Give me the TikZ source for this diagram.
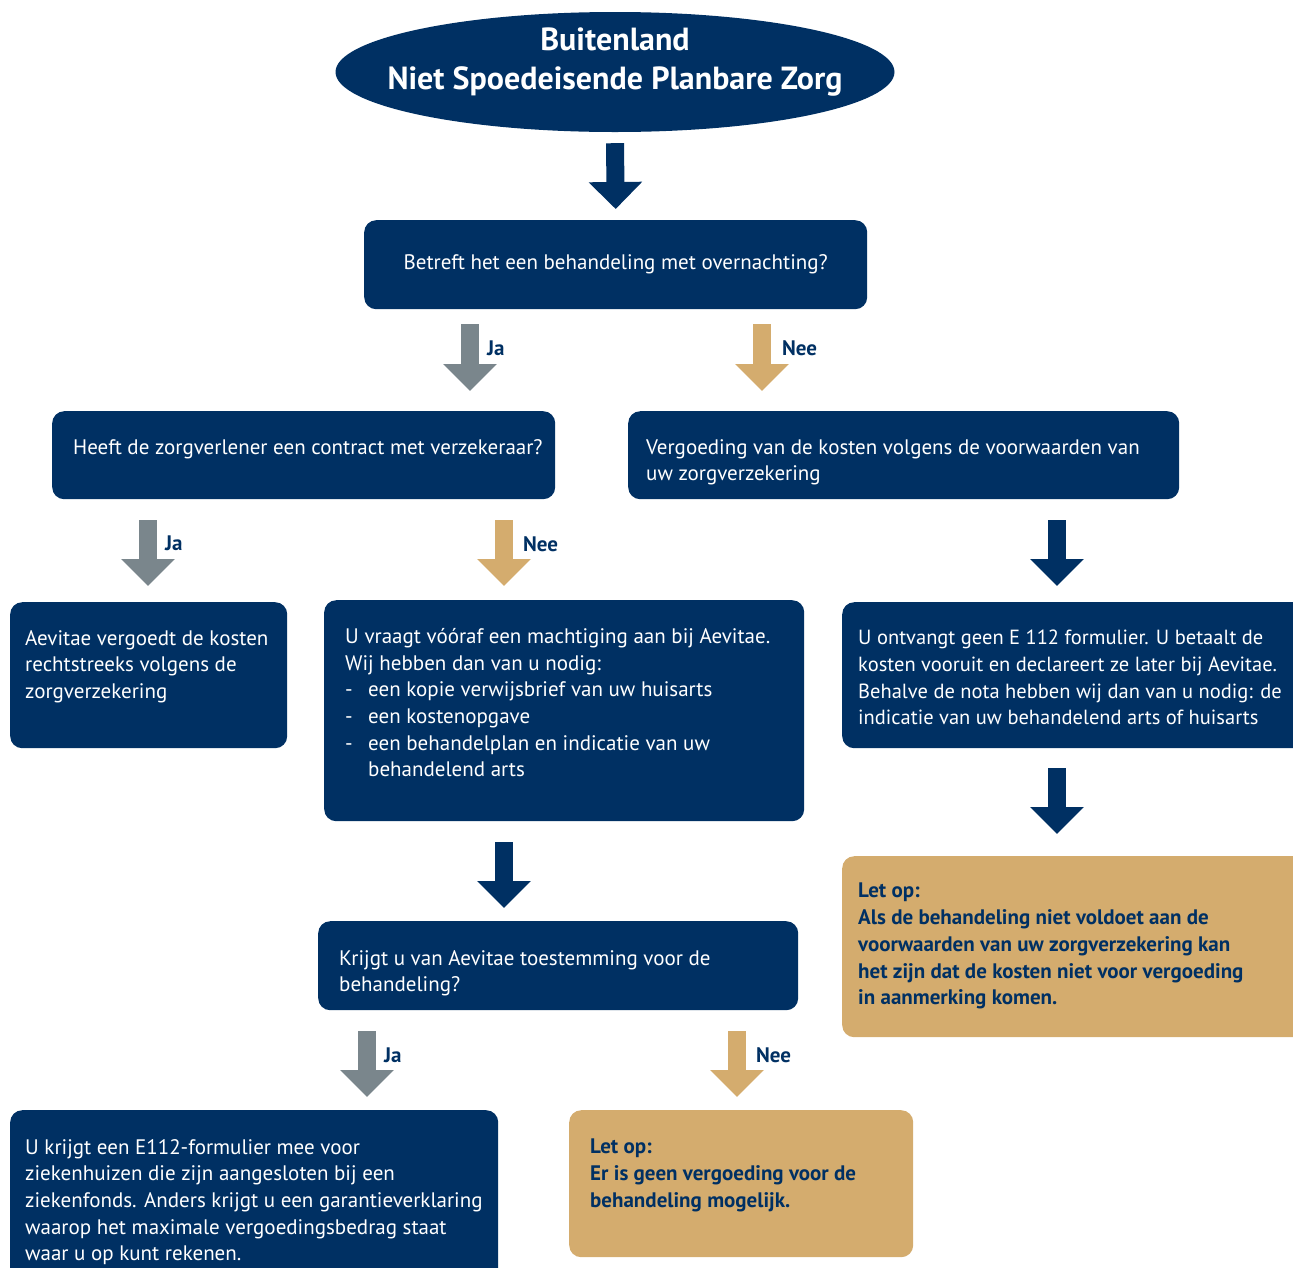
\documentclass[tikz,border=0pt]{standalone}
\usepackage{fontspec}
\setmainfont{PT Sans}
\usetikzlibrary{arrows.meta}
\usetikzlibrary{positioning}
\usetikzlibrary{shapes.geometric}
\definecolor{navy}{RGB}{0,48,99}
\definecolor{slate}{RGB}{122,134,140}
\definecolor{sand}{RGB}{212,172,110}

\begin{document}
\begin{tikzpicture}[x=1pt,y=-1pt]
\tikzset{
box/.style={rounded corners=12pt, inner sep=0pt, anchor=north west},
navybox/.style={box, fill=navy},
sandbox/.style={box, fill=sand},
bodytext/.style={anchor=north west, inner sep=0pt, align=left, text=white,
    font=\fontsize{21}{26.7}\selectfont},
warntext/.style={bodytext, text=navy, font=\bfseries\fontsize{21}{26.7}\selectfont},
answer/.style={inner sep=0pt, text=navy, font=\bfseries\fontsize{21}{24}\selectfont},
blockarrow/.style={line width=18pt, -{Triangle[width=52pt,length=27pt]}},
navyarrow/.style={blockarrow, draw=navy, fill=navy},
slatearrow/.style={blockarrow, draw=slate, fill=slate},
sandarrow/.style={blockarrow, draw=sand, fill=sand}
}
\useasboundingbox (0,0) rectangle (1293,1267);
\clip (0,0) rectangle (1293,1267);

% title
\node[ellipse, fill=navy, minimum width=559pt, minimum height=120pt, inner sep=0pt] (title) at (615,72) {};
\node[align=center, text=white, font=\bfseries\fontsize{32}{39}\selectfont] (titletxt) at (615,62)
    {Buitenland\\Niet Spoedeisende Planbare Zorg};

% first question
\node[navybox, minimum width=503pt, minimum height=89pt] (q1) at (364,220) {};
\node[text=white, font=\fontsize{21}{26.7}\selectfont] (q1txt) at (q1.center)
    {Betreft het een behandeling met overnachting?};

% second row
\node[navybox, minimum width=503pt, minimum height=88pt] (q2) at (52,411) {};
\node[bodytext] (q2txt) at ([shift={(21,28)}]q2.north west)
    {Heeft de zorgverlener een contract met verzekeraar?};
\node[navybox, minimum width=551pt, minimum height=88pt] (r1) at (628,411) {};
\node[bodytext] (r1txt) at ([shift={(18,28)}]r1.north west)
    {Vergoeding van de kosten volgens de voorwaarden van\\uw zorgverzekering};

% third row
\node[navybox, minimum width=277pt, minimum height=146pt] (a1) at (10,602) {};
\node[bodytext] (a1txt) at ([shift={(15,28)}]a1.north west)
    {Aevitae vergoedt de kosten\\rechtstreeks volgens de\\zorgverzekering};
\node[navybox, minimum width=480pt, minimum height=221pt] (a2) at (324,600) {};
\node[bodytext] (a2txt) at ([shift={(21,28)}]a2.north west)
    {U vraagt vóóraf een machtiging aan bij Aevitae.\\
     Wij hebben dan van u nodig:\\
     \makebox[23pt][l]{-}een kopie verwijsbrief van uw huisarts\\
     \makebox[23pt][l]{-}een kostenopgave\\
     \makebox[23pt][l]{-}een behandelplan en indicatie van uw\\
     \hspace*{23pt}behandelend arts};
\node[navybox, minimum width=463pt, minimum height=146pt] (r2) at (842,602) {};
\node[bodytext, font=\fontsize{20.5}{26.7}\selectfont] (r2txt) at ([shift={(16,28)}]r2.north west)
    {U ontvangt geen E 112 formulier. U betaalt de\\
     kosten vooruit en declareert ze later bij Aevitae.\\
     Behalve de nota hebben wij dan van u nodig: de\\
     indicatie van uw behandelend arts of huisarts};

% warning on the right
\node[sandbox, minimum width=463pt, minimum height=181pt] (r3) at (842,856) {};
\node[warntext] (r3txt) at ([shift={(16,27)}]r3.north west)
    {Let op:\\
     Als de behandeling niet voldoet aan de\\
     voorwaarden van uw zorgverzekering kan\\
     het zijn dat de kosten niet voor vergoeding\\
     in aanmerking komen.};

% third question
\node[navybox, minimum width=480pt, minimum height=89pt] (q3) at (318,921) {};
\node[bodytext] (q3txt) at ([shift={(21,29)}]q3.north west)
    {Krijgt u van Aevitae toestemming voor de\\behandeling?};

% last row
\node[navybox, minimum width=488pt, minimum height=180pt] (a3) at (10,1110) {};
\node[bodytext] (a3txt) at ([shift={(15,29)}]a3.north west)
    {U krijgt een E112-formulier mee voor\\
     ziekenhuizen die zijn aangesloten bij een\\
     ziekenfonds. Anders krijgt u een garantieverklaring\\
     waarop het maximale vergoedingsbedrag staat\\
     waar u op kunt rekenen.};
\node[sandbox, minimum width=344pt, minimum height=147pt] (a4) at (569,1110) {};
\node[warntext] (a4txt) at ([shift={(21,29)}]a4.north west)
    {Let op:\\
     Er is geen vergoeding voor de\\
     behandeling mogelijk.};

% arrows
\draw[navyarrow] ([yshift=-11pt]title.south) -- ([yshift=11pt]q1.north);

\coordinate (ja1) at (470,324);
\coordinate (ja1end) at (470,391);
\draw[slatearrow] (ja1) -- (ja1end) node[answer, pos=.36, right=8pt] (ja1lbl) {Ja};
\coordinate (nee1) at (762,324);
\coordinate (nee1end) at (762,391);
\draw[sandarrow] (nee1) -- (nee1end) node[answer, pos=.36, right=11pt] (nee1lbl) {Nee};

\coordinate (ja2) at (148,520);
\coordinate (ja2end) at (148,586);
\draw[slatearrow] (ja2) -- (ja2end) node[answer, pos=.36, right=8pt] (ja2lbl) {Ja};
\coordinate (nee2) at (504,520);
\coordinate (nee2end) at (504,586);
\draw[sandarrow] (nee2) -- (nee2end) node[answer, pos=.36, right=10pt] (nee2lbl) {Nee};
\coordinate (r1arr) at (1057,520);
\coordinate (r1arrend) at (1057,586);
\draw[navyarrow] (r1arr) -- (r1arrend);

\coordinate (r2arr) at (1057,768);
\coordinate (r2arrend) at (1057,834);
\draw[navyarrow] (r2arr) -- (r2arrend);
\coordinate (a2arr) at (504,842);
\coordinate (a2arrend) at (504,908);
\draw[navyarrow] (a2arr) -- (a2arrend);

\coordinate (ja3) at (367,1031);
\coordinate (ja3end) at (367,1097);
\draw[slatearrow] (ja3) -- (ja3end) node[answer, pos=.36, right=8pt] (ja3lbl) {Ja};
\coordinate (nee3) at (737,1031);
\coordinate (nee3end) at (737,1097);
\draw[sandarrow] (nee3) -- (nee3end) node[answer, pos=.36, right=10pt] (nee3lbl) {Nee};
\end{tikzpicture}
\end{document}
